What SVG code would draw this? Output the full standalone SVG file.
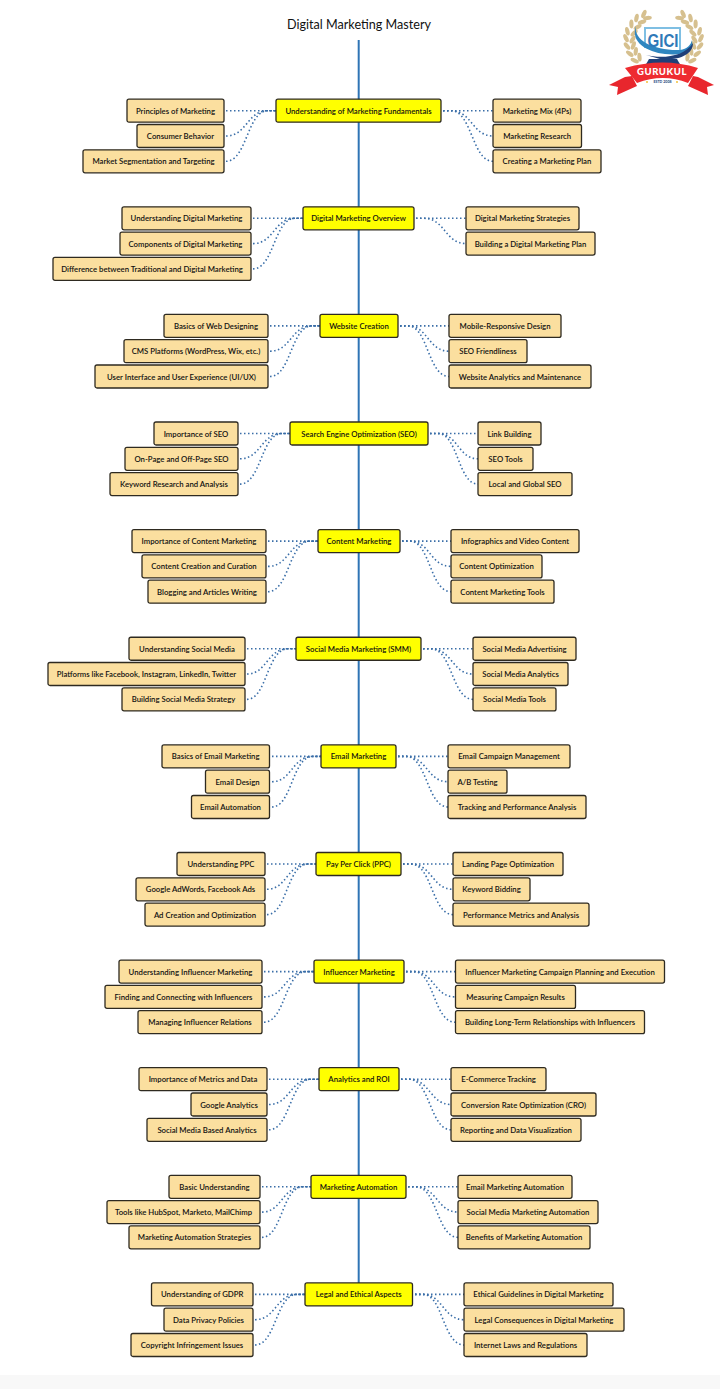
<svg xmlns="http://www.w3.org/2000/svg" xmlns:xlink="http://www.w3.org/1999/xlink" width="720" height="1389" viewBox="0 0 720 1389">
<style>
text{font-family:"Lato","Noto Sans",sans-serif;font-size:7.75px;font-weight:600;fill:#111;text-anchor:middle;dominant-baseline:central}
rect.s,rect.m{y:-11.5px;height:23px;rx:2px;stroke:#2e2a20;stroke-width:1.3}
rect.s{fill:#fbdf9f}
rect.m{fill:#ffff00}
#connectors path{fill:none;stroke:#3a6ea8;stroke-width:1.6;stroke-dasharray:1.5 2.5}
#spine{stroke:#2f74b5;stroke-width:2}
.title{font-size:12.6px;font-weight:400;fill:#111}
</style>
<defs><ellipse id="lf" rx="4.4" ry="2.1"/></defs>
<rect width="720" height="1389" fill="#fff"/>
<rect y="1375" width="720" height="14" fill="#f8f8f8"/>
<text class="title" x="359" y="24.5">Digital Marketing Mastery</text>
<line id="spine" x1="358.7" y1="40" x2="358.7" y2="1284"/>
<g id="connectors">
<g transform="translate(0,110.7)"><path d="M226 0H276"/><path d="M226 25.3C247 25.3 247 0 268 0H276"/><path d="M226 50.6C247 50.6 247 0 268 0H276"/><path d="M443 0H493"/><path d="M443 0H451C472 0 472 25.3 493 25.3"/><path d="M443 0H451C472 0 472 50.6 493 50.6"/></g>
<g transform="translate(0,218.3)"><path d="M253 0H303"/><path d="M253 25.3C274 25.3 274 0 295 0H303"/><path d="M253 50.6C274 50.6 274 0 295 0H303"/><path d="M416 0H466"/><path d="M416 0H424C445 0 445 25.3 466 25.3"/></g>
<g transform="translate(0,325.9)"><path d="M270 0H320"/><path d="M270 25.3C291 25.3 291 0 312 0H320"/><path d="M270 50.6C291 50.6 291 0 312 0H320"/><path d="M400 0H449"/><path d="M400 0H408C428 0 428 25.3 449 25.3"/><path d="M400 0H408C428 0 428 50.6 449 50.6"/></g>
<g transform="translate(0,433.5)"><path d="M240 0H290"/><path d="M240 25.3C261 25.3 261 0 282 0H290"/><path d="M240 50.6C261 50.6 261 0 282 0H290"/><path d="M430 0H478"/><path d="M430 0H438C458 0 458 25.3 478 25.3"/><path d="M430 0H438C458 0 458 50.6 478 50.6"/></g>
<g transform="translate(0,541.1)"><path d="M268 0H318"/><path d="M268 25.3C289 25.3 289 0 310 0H318"/><path d="M268 50.6C289 50.6 289 0 310 0H318"/><path d="M402 0H451"/><path d="M402 0H410C430 0 430 25.3 451 25.3"/><path d="M402 0H410C430 0 430 50.6 451 50.6"/></g>
<g transform="translate(0,648.75)"><path d="M247 0H296"/><path d="M247 25.3C267 25.3 267 0 288 0H296"/><path d="M247 50.6C267 50.6 267 0 288 0H296"/><path d="M423 0H473"/><path d="M423 0H431C452 0 452 25.3 473 25.3"/><path d="M423 0H431C452 0 452 50.6 473 50.6"/></g>
<g transform="translate(0,756.4)"><path d="M272 0H321"/><path d="M272 25.3C292 25.3 292 0 313 0H321"/><path d="M272 50.6C292 50.6 292 0 313 0H321"/><path d="M398 0H448"/><path d="M398 0H406C427 0 427 25.3 448 25.3"/><path d="M398 0H406C427 0 427 50.6 448 50.6"/></g>
<g transform="translate(0,864)"><path d="M267 0H316"/><path d="M267 25.3C287 25.3 287 0 308 0H316"/><path d="M267 50.6C287 50.6 287 0 308 0H316"/><path d="M403 0H453"/><path d="M403 0H411C432 0 432 25.3 453 25.3"/><path d="M403 0H411C432 0 432 50.6 453 50.6"/></g>
<g transform="translate(0,971.6)"><path d="M264 0H314"/><path d="M264 25.3C285 25.3 285 0 306 0H314"/><path d="M264 50.6C285 50.6 285 0 306 0H314"/><path d="M406 0H455"/><path d="M406 0H414C434 0 434 25.3 455 25.3"/><path d="M406 0H414C434 0 434 50.6 455 50.6"/></g>
<g transform="translate(0,1079.2)"><path d="M269 0H319"/><path d="M269 25.3C290 25.3 290 0 311 0H319"/><path d="M269 50.6C290 50.6 290 0 311 0H319"/><path d="M401 0H451"/><path d="M401 0H409C430 0 430 25.3 451 25.3"/><path d="M401 0H409C430 0 430 50.6 451 50.6"/></g>
<g transform="translate(0,1186.8)"><path d="M262 0H311"/><path d="M262 25.3C282 25.3 282 0 303 0H311"/><path d="M262 50.6C282 50.6 282 0 303 0H311"/><path d="M408 0H458"/><path d="M408 0H416C437 0 437 25.3 458 25.3"/><path d="M408 0H416C437 0 437 50.6 458 50.6"/></g>
<g transform="translate(0,1294.4)"><path d="M255 0H305"/><path d="M255 25.3C276 25.3 276 0 297 0H305"/><path d="M255 50.6C276 50.6 276 0 297 0H305"/><path d="M415 0H464"/><path d="M415 0H423C443 0 443 25.3 464 25.3"/><path d="M415 0H423C443 0 443 50.6 464 50.6"/></g>
</g>
<g id="n1" transform="translate(276,110.7)"><rect class="m" width="165"/><text x="82.5">Understanding of Marketing Fundamentals</text></g>
<g id="n1l1" transform="translate(127,110.7)"><rect class="s" width="97"/><text x="48.5">Principles of Marketing</text></g>
<g id="n1l2" transform="translate(137,136)"><rect class="s" width="87"/><text x="43.5">Consumer Behavior</text></g>
<g id="n1l3" transform="translate(83,161.3)"><rect class="s" width="141"/><text x="70.5">Market Segmentation and Targeting</text></g>
<g id="n1r1" transform="translate(493,110.7)"><rect class="s" width="88"/><text x="44">Marketing Mix (4Ps)</text></g>
<g id="n1r2" transform="translate(493,136)"><rect class="s" width="88.5"/><text x="44.2">Marketing Research</text></g>
<g id="n1r3" transform="translate(493,161.3)"><rect class="s" width="108"/><text x="54">Creating a Marketing Plan</text></g>
<g id="n2" transform="translate(303,218.3)"><rect class="m" width="111"/><text x="55.5">Digital Marketing Overview</text></g>
<g id="n2l1" transform="translate(122,218.3)"><rect class="s" width="129"/><text x="64.5">Understanding Digital Marketing</text></g>
<g id="n2l2" transform="translate(120,243.6)"><rect class="s" width="131"/><text x="65.5">Components of Digital Marketing</text></g>
<g id="n2l3" transform="translate(53,268.9)"><rect class="s" width="198"/><text x="99">Difference between Traditional and Digital Marketing</text></g>
<g id="n2r1" transform="translate(466,218.3)"><rect class="s" width="113"/><text x="56.5">Digital Marketing Strategies</text></g>
<g id="n2r2" transform="translate(466,243.6)"><rect class="s" width="129"/><text x="64.5">Building a Digital Marketing Plan</text></g>
<g id="n3" transform="translate(320,325.9)"><rect class="m" width="78"/><text x="39">Website Creation</text></g>
<g id="n3l1" transform="translate(164,325.9)"><rect class="s" width="104"/><text x="52">Basics of Web Designing</text></g>
<g id="n3l2" transform="translate(124,351.2)"><rect class="s" width="144"/><text x="72">CMS Platforms (WordPress, Wix, etc.)</text></g>
<g id="n3l3" transform="translate(95,376.5)"><rect class="s" width="173"/><text x="86.5">User Interface and User Experience (UI/UX)</text></g>
<g id="n3r1" transform="translate(449,325.9)"><rect class="s" width="112"/><text x="56">Mobile-Responsive Design</text></g>
<g id="n3r2" transform="translate(449,351.2)"><rect class="s" width="78"/><text x="39">SEO Friendliness</text></g>
<g id="n3r3" transform="translate(449,376.5)"><rect class="s" width="142"/><text x="71">Website Analytics and Maintenance</text></g>
<g id="n4" transform="translate(290,433.5)"><rect class="m" width="138"/><text x="69">Search Engine Optimization (SEO)</text></g>
<g id="n4l1" transform="translate(154,433.5)"><rect class="s" width="84"/><text x="42">Importance of SEO</text></g>
<g id="n4l2" transform="translate(125,458.8)"><rect class="s" width="113"/><text x="56.5">On-Page and Off-Page SEO</text></g>
<g id="n4l3" transform="translate(110,484.1)"><rect class="s" width="128"/><text x="64">Keyword Research and Analysis</text></g>
<g id="n4r1" transform="translate(478,433.5)"><rect class="s" width="63"/><text x="31.5">Link Building</text></g>
<g id="n4r2" transform="translate(478,458.8)"><rect class="s" width="55"/><text x="27.5">SEO Tools</text></g>
<g id="n4r3" transform="translate(478,484.1)"><rect class="s" width="94"/><text x="47">Local and Global SEO</text></g>
<g id="n5" transform="translate(318,541.1)"><rect class="m" width="82"/><text x="41">Content Marketing</text></g>
<g id="n5l1" transform="translate(132,541.1)"><rect class="s" width="134"/><text x="67">Importance of Content Marketing</text></g>
<g id="n5l2" transform="translate(142,566.4)"><rect class="s" width="124"/><text x="62">Content Creation and Curation</text></g>
<g id="n5l3" transform="translate(148,591.7)"><rect class="s" width="118"/><text x="59">Blogging and Articles Writing</text></g>
<g id="n5r1" transform="translate(451,541.1)"><rect class="s" width="128"/><text x="64">Infographics and Video Content</text></g>
<g id="n5r2" transform="translate(451,566.4)"><rect class="s" width="91"/><text x="45.5">Content Optimization</text></g>
<g id="n5r3" transform="translate(451,591.7)"><rect class="s" width="103"/><text x="51.5">Content Marketing Tools</text></g>
<g id="n6" transform="translate(296,648.75)"><rect class="m" width="125"/><text x="62.5">Social Media Marketing (SMM)</text></g>
<g id="n6l1" transform="translate(129,648.75)"><rect class="s" width="116"/><text x="58">Understanding Social Media</text></g>
<g id="n6l2" transform="translate(48,674)"><rect class="s" width="197"/><text x="98.5">Platforms like Facebook, Instagram, LinkedIn, Twitter</text></g>
<g id="n6l3" transform="translate(122,699.4)"><rect class="s" width="123"/><text x="61.5">Building Social Media Strategy</text></g>
<g id="n6r1" transform="translate(473,648.75)"><rect class="s" width="103"/><text x="51.5">Social Media Advertising</text></g>
<g id="n6r2" transform="translate(473,674)"><rect class="s" width="95"/><text x="47.5">Social Media Analytics</text></g>
<g id="n6r3" transform="translate(473,699.4)"><rect class="s" width="83"/><text x="41.5">Social Media Tools</text></g>
<g id="n7" transform="translate(321,756.4)"><rect class="m" width="75"/><text x="37.5">Email Marketing</text></g>
<g id="n7l1" transform="translate(162,756.4)"><rect class="s" width="107.5"/><text x="53.7">Basics of Email Marketing</text></g>
<g id="n7l2" transform="translate(205.5,781.7)"><rect class="s" width="64"/><text x="32">Email Design</text></g>
<g id="n7l3" transform="translate(191.5,807)"><rect class="s" width="78"/><text x="39">Email Automation</text></g>
<g id="n7r1" transform="translate(448,756.4)"><rect class="s" width="122"/><text x="61">Email Campaign Management</text></g>
<g id="n7r2" transform="translate(448,781.7)"><rect class="s" width="59"/><text x="29.5">A/B Testing</text></g>
<g id="n7r3" transform="translate(448,807)"><rect class="s" width="138"/><text x="69">Tracking and Performance Analysis</text></g>
<g id="n8" transform="translate(316,864)"><rect class="m" width="85"/><text x="42.5">Pay Per Click (PPC)</text></g>
<g id="n8l1" transform="translate(177,864)"><rect class="s" width="88"/><text x="44">Understanding PPC</text></g>
<g id="n8l2" transform="translate(136,889.3)"><rect class="s" width="129"/><text x="64.5">Google AdWords, Facebook Ads</text></g>
<g id="n8l3" transform="translate(145,914.6)"><rect class="s" width="120"/><text x="60">Ad Creation and Optimization</text></g>
<g id="n8r1" transform="translate(453,864)"><rect class="s" width="110"/><text x="55">Landing Page Optimization</text></g>
<g id="n8r2" transform="translate(453,889.3)"><rect class="s" width="77"/><text x="38.5">Keyword Bidding</text></g>
<g id="n8r3" transform="translate(453,914.6)"><rect class="s" width="136"/><text x="68">Performance Metrics and Analysis</text></g>
<g id="n9" transform="translate(314,971.6)"><rect class="m" width="90"/><text x="45">Influencer Marketing</text></g>
<g id="n9l1" transform="translate(119,971.6)"><rect class="s" width="143"/><text x="71.5">Understanding Influencer Marketing</text></g>
<g id="n9l2" transform="translate(105,996.9)"><rect class="s" width="157"/><text x="78.5">Finding and Connecting with Influencers</text></g>
<g id="n9l3" transform="translate(138,1022.2)"><rect class="s" width="124"/><text x="62">Managing Influencer Relations</text></g>
<g id="n9r1" transform="translate(455.5,971.6)"><rect class="s" width="209"/><text x="104.5">Influencer Marketing Campaign Planning and Execution</text></g>
<g id="n9r2" transform="translate(455.5,996.9)"><rect class="s" width="120"/><text x="60">Measuring Campaign Results</text></g>
<g id="n9r3" transform="translate(455.5,1022.2)"><rect class="s" width="189"/><text x="94.5">Building Long-Term Relationships with Influencers</text></g>
<g id="n10" transform="translate(319,1079.2)"><rect class="m" width="80"/><text x="40">Analytics and ROI</text></g>
<g id="n10l1" transform="translate(139,1079.2)"><rect class="s" width="128"/><text x="64">Importance of Metrics and Data</text></g>
<g id="n10l2" transform="translate(191,1104.5)"><rect class="s" width="76"/><text x="38">Google Analytics</text></g>
<g id="n10l3" transform="translate(147,1129.8)"><rect class="s" width="120"/><text x="60">Social Media Based Analytics</text></g>
<g id="n10r1" transform="translate(451,1079.2)"><rect class="s" width="95"/><text x="47.5">E-Commerce Tracking</text></g>
<g id="n10r2" transform="translate(451,1104.5)"><rect class="s" width="145"/><text x="72.5">Conversion Rate Optimization (CRO)</text></g>
<g id="n10r3" transform="translate(451,1129.8)"><rect class="s" width="130"/><text x="65">Reporting and Data Visualization</text></g>
<g id="n11" transform="translate(311,1186.8)"><rect class="m" width="95"/><text x="47.5">Marketing Automation</text></g>
<g id="n11l1" transform="translate(169,1186.8)"><rect class="s" width="91"/><text x="45.5">Basic Understanding</text></g>
<g id="n11l2" transform="translate(107,1212.1)"><rect class="s" width="153"/><text x="76.5">Tools like HubSpot, Marketo, MailChimp</text></g>
<g id="n11l3" transform="translate(129,1237.4)"><rect class="s" width="131"/><text x="65.5">Marketing Automation Strategies</text></g>
<g id="n11r1" transform="translate(458,1186.8)"><rect class="s" width="114"/><text x="57">Email Marketing Automation</text></g>
<g id="n11r2" transform="translate(458,1212.1)"><rect class="s" width="140"/><text x="70">Social Media Marketing Automation</text></g>
<g id="n11r3" transform="translate(458,1237.4)"><rect class="s" width="132"/><text x="66">Benefits of Marketing Automation</text></g>
<g id="n12" transform="translate(305,1294.4)"><rect class="m" width="107.5"/><text x="53.7">Legal and Ethical Aspects</text></g>
<g id="n12l1" transform="translate(151.5,1294.4)"><rect class="s" width="101.5"/><text x="50.7">Understanding of GDPR</text></g>
<g id="n12l2" transform="translate(164,1319.7)"><rect class="s" width="89"/><text x="44.5">Data Privacy Policies</text></g>
<g id="n12l3" transform="translate(131,1345)"><rect class="s" width="122"/><text x="61">Copyright Infringement Issues</text></g>
<g id="n12r1" transform="translate(464,1294.4)"><rect class="s" width="149"/><text x="74.5">Ethical Guidelines in Digital Marketing</text></g>
<g id="n12r2" transform="translate(464,1319.7)"><rect class="s" width="160"/><text x="80">Legal Consequences in Digital Marketing</text></g>
<g id="n12r3" transform="translate(464,1345)"><rect class="s" width="123"/><text x="61.5">Internet Laws and Regulations</text></g>
<g id="logo">
<g id="wreath" fill="#d6c08f">
<g id="wl">
<use xlink:href="#lf" transform="translate(643.9,14) rotate(-65)"/><use xlink:href="#lf" transform="translate(647.4,18) rotate(-5)"/>
<use xlink:href="#lf" transform="translate(636.5,18) rotate(-78)"/><use xlink:href="#lf" transform="translate(642,22) rotate(-18)"/>
<use xlink:href="#lf" transform="translate(631.4,24) rotate(-91)"/><use xlink:href="#lf" transform="translate(637.6,27) rotate(-31)"/>
<use xlink:href="#lf" transform="translate(627.4,31.3) rotate(-104)"/><use xlink:href="#lf" transform="translate(634.1,33) rotate(-44)"/>
<use xlink:href="#lf" transform="translate(626,38.2) rotate(-117)"/><use xlink:href="#lf" transform="translate(632.6,39.5) rotate(-57)"/>
<use xlink:href="#lf" transform="translate(627,46.1) rotate(-130)"/><use xlink:href="#lf" transform="translate(633.4,45.5) rotate(-70)"/>
<use xlink:href="#lf" transform="translate(629.8,53.7) rotate(-143)"/><use xlink:href="#lf" transform="translate(635.8,51.3) rotate(-83)"/>
<use xlink:href="#lf" transform="translate(634.7,60.6) rotate(-156)"/><use xlink:href="#lf" transform="translate(639.5,57.1) rotate(-96)"/>
</g>
<use xlink:href="#wl" transform="translate(1327,0) scale(-1,1)"/>
</g>
<path d="M645 48V28H680V50" fill="none" stroke="#7fbfe3" stroke-width="2"/>
<path d="M636 26C633 41 656 51 680 50C687 49 691 45 692 40C694 52 681 56 665 54C647 52 630 42 636 26Z" fill="#2f86c0"/>
<path d="M646 55C662 59 684 57 693 43C693 55 678 61 660 59Z" fill="#1f3f78"/>
<text x="663" y="40.5" textLength="31" lengthAdjust="spacingAndGlyphs" style="font-family:'Liberation Sans',sans-serif;font-size:18px;font-weight:700;fill:#2f79b8">GICI</text>
<path d="M649 59H677L681 66H645Z" fill="#1f3f78"/>
<path d="M625 77L609 85L618 87L617 95L637 86L632 76Z" fill="#e8262d"/>
<path d="M698 77L714 85L707 87L708 95L688 86L693 76Z" fill="#e8262d"/>
<path d="M625 68Q663 57 698 68L688 83Q663 73 637 83Z" fill="#ee2b30"/>
<text x="662" y="71" style="font-size:9.5px;font-weight:900;fill:#fff;letter-spacing:.6px">GURUKUL</text>
<text x="662.5" y="81.5" style="font-size:3.6px;font-weight:700;fill:#24467f">ESTD 2008</text>
<circle cx="647" cy="82" r="1" fill="#f2c23a"/><circle cx="677" cy="82" r="1" fill="#f2c23a"/>
</g>
</svg>
